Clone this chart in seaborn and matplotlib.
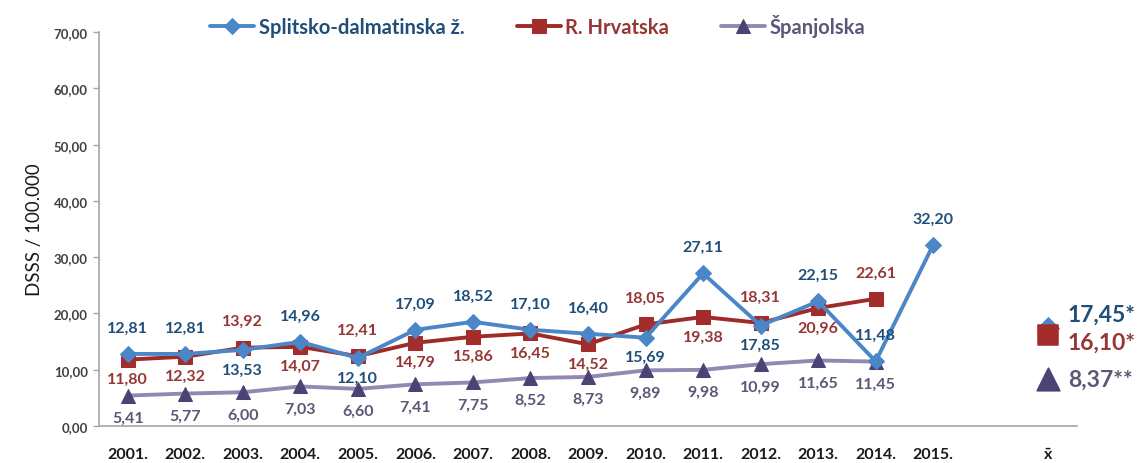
import matplotlib
matplotlib.use("Agg")
import matplotlib.pyplot as plt
import pandas as pd
import seaborn as sns

# ── Data ──────────────────────────────────────────────────────────────────────
years = ["2001.", "2002.", "2003.", "2004.", "2005.", "2006.", "2007.", "2008.",
         "2009.", "2010.", "2011.", "2012.", "2013.", "2014.", "2015."]
split_dalm = [12.81, 12.81, 13.53, 14.96, 12.10, 17.09, 18.52, 17.10,
              16.40, 15.69, 27.11, 17.85, 22.15, 11.48, 32.20]
hrvatska = [11.80, 12.32, 13.92, 14.07, 12.41, 14.79, 15.86, 16.45,
            14.52, 18.05, 19.38, 18.31, 20.96, 22.61]
spanjolska = [5.41, 5.77, 6.00, 7.03, 6.60, 7.41, 7.75, 8.52,
              8.73, 9.89, 9.98, 10.99, 11.65, 11.45]
means = [17.45, 16.10, 8.37]
mean_labels = ["17,45*", "16,10*", "8,37**"]
series_names = ["Splitsko-dalmatinska ž.", "R. Hrvatska", "Španjolska"]
# label above (a) or below (b) the point
pos_split = ["a", "a", "b", "a", "b", "a", "a", "a", "a", "b", "a", "b", "a", "a", "a"]
pos_hrv = ["b", "b", "a", "b", "a", "b", "b", "b", "b", "a", "b", "a", "b", "a"]
pos_spa = ["b"] * 14

MEAN_SLOT = 16

# ── Style ─────────────────────────────────────────────────────────────────────
sns.set_theme(style="white")
plt.rcParams["font.family"] = ["Lato", "DejaVu Sans"]

line_cols = ["#4A86C8", "#9E2B27", "#9388B3"]
mark_cols = ["#4A86C8", "#A32D2A", "#4B4373"]
text_cols = ["#1F4E79", "#953735", "#5E5676"]
markers = ["D", "s", "^"]
msizes = [8.5, 9.5, 10.5]

fig = plt.figure(figsize=(11.44, 4.64), dpi=100)
ax = fig.add_axes([0.0865, 0.0797, 0.855, 0.849])

all_series = [split_dalm, hrvatska, spanjolska]
all_pos = [pos_split, pos_hrv, pos_spa]
for i, vals in enumerate(all_series):
    df = pd.DataFrame({"x": range(len(vals)), "y": vals})
    sns.lineplot(data=df, x="x", y="y", ax=ax, color=line_cols[i], lw=2.8,
                 marker=markers[i], markersize=msizes[i],
                 markerfacecolor=mark_cols[i], markeredgecolor=mark_cols[i],
                 label=series_names[i], zorder=3 - i * 0.1)
    for j, v in enumerate(vals):
        if all_pos[i][j] == "a":
            dy = 19
        else:
            dy = -16 if i == 2 else -14
        ax.annotate(f"{v:.2f}".replace(".", ","), (j, v), textcoords="offset points",
                    xytext=(0, dy), ha="center", va="center", fontsize=11.5,
                    fontweight="bold", color=text_cols[i], annotation_clip=False, zorder=5)

# ── Means at the x̄ slot ───────────────────────────────────────────────────────
mean_dy = [10, -5, 0]
for i, m in enumerate(means):
    sns.scatterplot(x=[MEAN_SLOT], y=[m], ax=ax, marker=markers[i],
                    s=[120, 200, 260][i], color=mark_cols[i], edgecolor=mark_cols[i],
                    zorder=4 + i * 0.1 if i else 3.5, legend=False)
    ax.annotate(mean_labels[i], (MEAN_SLOT, m), textcoords="offset points",
                xytext=(14, mean_dy[i]), ha="left", va="center", fontsize=16.5,
                fontweight="bold", color=text_cols[i], annotation_clip=False)

# ── Axes ──────────────────────────────────────────────────────────────────────
ax.set_xlim(-0.5, MEAN_SLOT + 0.5)
ax.set_ylim(0, 70)
ax.set_xticks(list(range(len(years))) + [MEAN_SLOT])
ax.set_xticklabels(years + ["x̄"], fontsize=11.5, fontweight="bold", color="#1a1a1a")
ax.set_yticks(range(0, 71, 10))
ax.set_yticklabels([f"{t},00" for t in range(0, 71, 10)], fontsize=9.5,
                   fontweight="bold", color="#404040")
ax.tick_params(axis="x", length=0, pad=15)
ax.tick_params(axis="y", length=4, width=1, color="#A6A6A6", direction="out", pad=4,
               left=True)
for s in ["top", "right"]:
    ax.spines[s].set_visible(False)
for s in ["left", "bottom"]:
    ax.spines[s].set_color("#A6A6A6")
    ax.spines[s].set_linewidth(1.2)
ax.set_xlabel("")
ax.set_ylabel("DSSS / 100.000", fontsize=13.5, color="#1a1a1a", labelpad=8)

leg = ax.legend(loc="center", bbox_to_anchor=(0.47, 0.942), bbox_transform=fig.transFigure,
                ncol=3, frameon=False, fontsize=14.5, handlelength=2.2, columnspacing=2.6,
                handletextpad=0.2)
for txt, c in zip(leg.get_texts(), text_cols):
    txt.set_color(c)
    txt.set_fontweight("bold")

fig.savefig("out.png", dpi=100)
